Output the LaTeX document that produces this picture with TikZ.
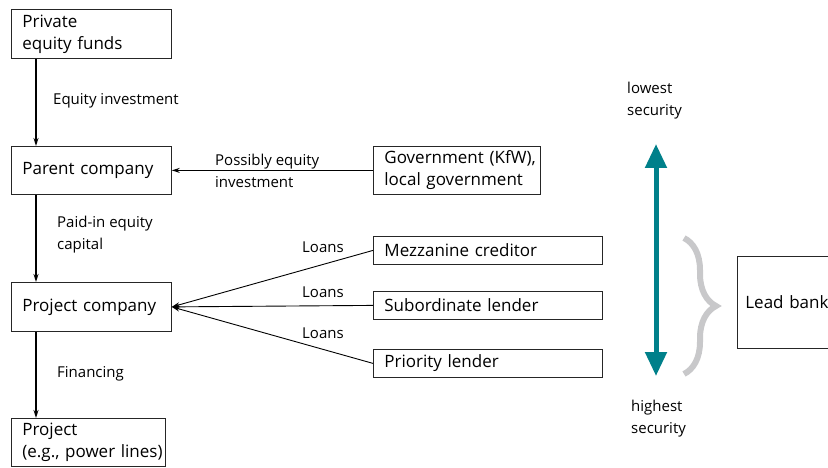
\documentclass[tikz,border=0pt]{standalone}
\usepackage{fontspec}
\setmainfont{Open Sans}
\usetikzlibrary{arrows.meta}
\usetikzlibrary{decorations.pathreplacing}
\definecolor{secteal}{RGB}{0,128,138}
\definecolor{bracegray}{RGB}{200,200,202}
\tikzset{
  box/.style={
    draw=black!85,
    line width=0.8pt,
    anchor=north west,
    align=left,
    inner xsep=11pt,
    inner ysep=0pt,
    font=\fontsize{17}{22}\selectfont,
  },
  lbl/.style={
    anchor=west,
    align=left,
    inner sep=0pt,
    font=\fontsize{15}{22}\selectfont,
  },
  flow/.style={
    line width=1.4pt,
    -{Stealth[length=8pt,width=5pt]},
  },
  loan/.style={
    line width=0.9pt,
    -{Stealth[length=8pt,width=5pt]},
  },
  security/.style={
    draw=secteal,
    line width=5pt,
    {Triangle[length=24pt,width=21pt]}-{Triangle[length=24pt,width=21pt]},
  },
  grouping/.style={
    draw=bracegray,
    line width=6pt,
    decorate,
    decoration={brace,amplitude=32pt},
  },
}

\begin{document}
\begin{tikzpicture}[x=1pt,y=-1pt]
  \clip (0,0) rectangle (828,468);

  % left column
  \node[box, minimum width=160, minimum height=49, text width=138] (funds) at (11,9) {Private\\equity~funds};
  \node[box, minimum width=160, minimum height=48, text width=138] (parent) at (11,146) {Parent~company};
  \node[box, minimum width=160, minimum height=49, text width=138] (projco) at (11,282) {Project~company};
  \node[box, minimum width=154, minimum height=48, text width=132] (project) at (11,418) {Project\\(e.g.,~power~lines)};

  % lenders
  \node[box, minimum width=167, minimum height=48, text width=145] (gov) at (373,146) {Government~(KfW),\\local~government};
  \node[box, minimum width=229, minimum height=28, text width=207] (mezz) at (373,236) {Mezzanine creditor};
  \node[box, minimum width=229, minimum height=28, text width=207] (sub) at (373,291) {Subordinate lender};
  \node[box, minimum width=229, minimum height=28, text width=207] (prio) at (373,349) {Priority lender};
  \node[box, minimum width=110, minimum height=92, text width=94, inner xsep=8pt] (lead) at (737,256) {Lead~bank};

  % labels
  \node[lbl] (eqinv) at (53,101) {Equity investment};
  \node[lbl] (possible) at (215,171) {Possibly equity\\investment};
  \node[lbl] (paidin) at (57,235) {Paid-in equity\\capital};
  \node[lbl] (loana) at (302,247) {Loans};
  \node[lbl] (loanb) at (302,292) {Loans};
  \node[lbl] (loanc) at (302,333) {Loans};
  \node[lbl] (financing) at (57,374) {Financing};
  \node[lbl] (lowest) at (627,101) {lowest\\security};
  \node[lbl] (highest) at (631,419) {highest\\security};

  % connectors
  \draw[flow] ([xshift=25pt]funds.south west) -- ([xshift=25pt]parent.north west);
  \draw[flow] ([xshift=25pt]parent.south west) -- ([xshift=25pt]projco.north west);
  \draw[flow] ([xshift=25pt]projco.south west) -- ([xshift=25pt]project.north west);
  \draw[flow] (gov.west) -- (parent.east);
  \draw[loan] (mezz.west) -- (projco.east);
  \draw[loan] (sub.west) -- (projco.east);
  \draw[loan] (prio.west) -- (projco.east);

  % security scale
  \coordinate (sectop) at (656,144);
  \coordinate (secbot) at (656,376);
  \draw[security] (sectop) -- (secbot);
  \coordinate (bracetop) at (684,238);
  \coordinate (bracebot) at (684,374);
  \draw[grouping] (bracetop) -- (bracebot);
\end{tikzpicture}
\end{document}
